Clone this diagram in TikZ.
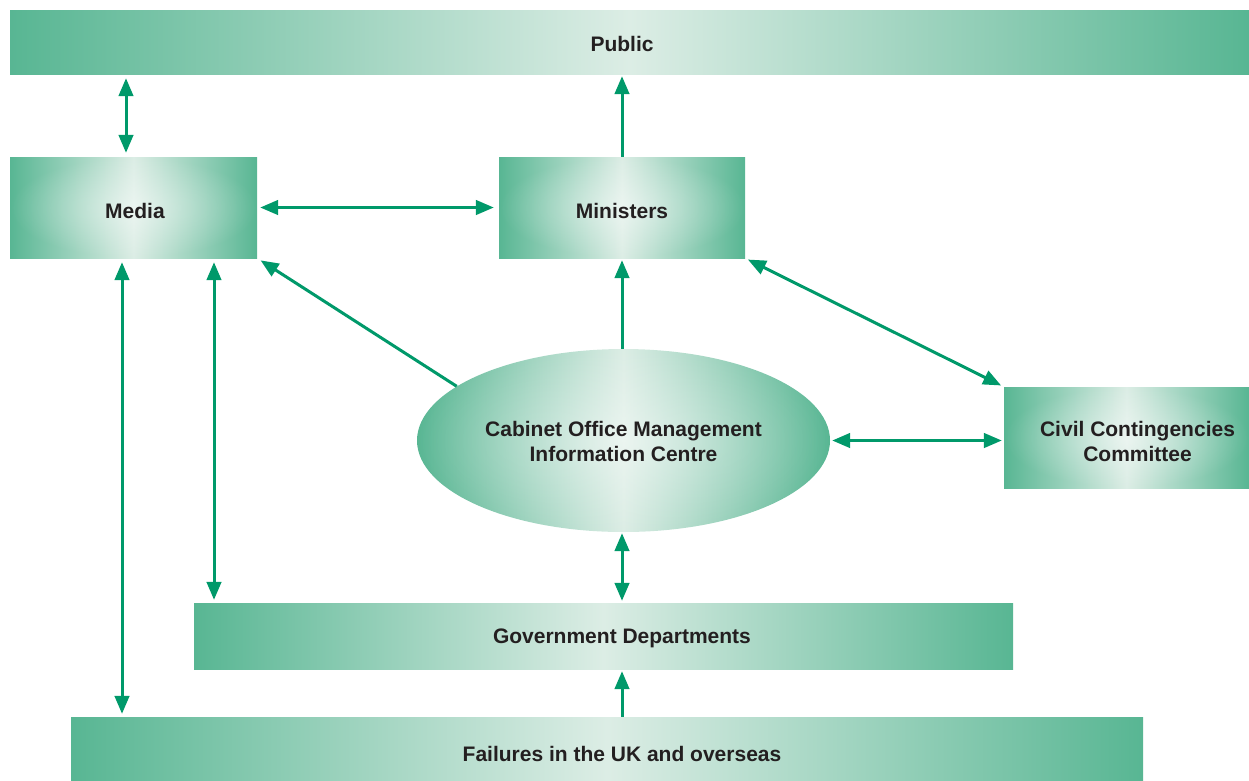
\documentclass[tikz,border=0pt]{standalone}
\usepackage{fontspec}
\setmainfont{Liberation Sans}
\usetikzlibrary{arrows.meta,shapes.geometric,fadings}

\definecolor{boxedge}{RGB}{88,182,147}
\definecolor{boxlight}{RGB}{220,237,229}
\definecolor{linkgreen}{RGB}{0,153,106}
\definecolor{ink}{RGB}{35,31,32}

% soft radial highlight, opaque in the middle and clear at the rim
\tikzfading[name=centreglow, inner color=transparent!0, outer color=transparent!100]

\begin{document}
\begin{tikzpicture}[x=1pt,y=-1pt,
  caption/.style={font=\fontsize{21}{25}\selectfont\bfseries, text=ink, align=center, inner sep=0pt},
  panel/.style={rectangle, draw=none, inner sep=0pt,
    left color=boxedge, right color=boxedge, middle color=boxlight, caption},
  oval/.style={ellipse, draw=none, inner sep=0pt,
    left color=boxedge, right color=boxedge, middle color=boxlight, caption},
  glow/.style={fill=white, path fading=centreglow, fill opacity=0.45},
  conn/.style={draw=linkgreen, line width=3pt},
  one/.style={conn, -{Triangle[width=14.5pt,length=18pt]}},
  both/.style={conn, {Triangle[width=14.5pt,length=18pt]}-{Triangle[width=14.5pt,length=18pt]}}
]
\useasboundingbox (0,0) rectangle (1249,780);

% boxes
\node[panel, minimum width=1239pt, minimum height=64pt] (pub) at (629.5,42) {};
\node[caption] (pubtext) at ([xshift=-7.5pt,yshift=-2pt]pub.center) {Public};

\node[panel, minimum width=247pt, minimum height=101pt] (media) at (133.5,207.5) {};
\fill[glow] (media.south west) rectangle (media.north east);
\node[caption] (mediatext) at ([xshift=1.5pt,yshift=-3pt]media.center) {Media};

\node[panel, minimum width=246pt, minimum height=101pt] (min) at (622,207.5) {};
\fill[glow] (min.south west) rectangle (min.north east);
\node[caption] (mintext) at ([yshift=-3pt]min.center) {Ministers};

\node[oval, minimum width=413pt, minimum height=183pt] (ell) at (623.5,440.5) {};
\fill[glow] (ell.center) ellipse [x radius=206.5pt, y radius=91.5pt];
\node[caption] (elltext) at ([yshift=-1pt]ell.center) {Cabinet Office Management\\Information Centre};

\node[panel, minimum width=245pt, minimum height=101pt] (civ) at (1126.5,437.5) {};
\fill[glow] (civ.south west) rectangle (civ.north east);
\node[caption] (civtext) at ([xshift=11pt,yshift=-4pt]civ.center) {Civil Contingencies\\Committee};

\node[panel, minimum width=819pt, minimum height=66pt] (gov) at (603.5,636) {};
\node[caption] (govtext) at ([xshift=18.5pt,yshift=-2pt]gov.center) {Government Departments};

\node[panel, minimum width=1072pt, minimum height=63pt] (fail) at (607,748.5) {};
\node[caption] (failtext) at ([xshift=15pt,yshift=-5.5pt]fail.center) {Failures in the UK and overseas};

% connectors
\draw[both, shorten <=4pt, shorten >=4pt] ([xshift=-7.5pt]media.north) -- ([xshift=-7.5pt]media.north |- pub.south);
\draw[one, shorten >=2pt] (min.north) -- (min.north |- pub.south);
\draw[both, shorten <=3pt, shorten >=5pt] (media.east) -- (min.west);
\draw[one, shorten >=4pt] (ell.162) -- (media.south east);
\draw[one, shorten >=2pt] (min.south |- ell.north) -- (min.south);
\draw[both, shorten <=3pt, shorten >=3pt] (min.south east) -- (civ.north west);
\draw[both, shorten <=2pt, shorten >=2pt] (ell.east) -- (ell.east -| civ.west);
\draw[both, shorten <=1pt, shorten >=2pt] (min.south |- ell.south) -- (min.south |- gov.north);
\draw[one, shorten >=2pt] (min.south |- fail.north) -- (min.south |- gov.south);
\draw[both, shorten <=4pt, shorten >=3pt] ([xshift=-11.5pt]media.south) -- ([xshift=-11.5pt]media.south |- fail.north);
\draw[both, shorten <=4pt, shorten >=3pt] ([xshift=80.5pt]media.south) -- ([xshift=80.5pt]media.south |- gov.north);
\end{tikzpicture}
\end{document}
